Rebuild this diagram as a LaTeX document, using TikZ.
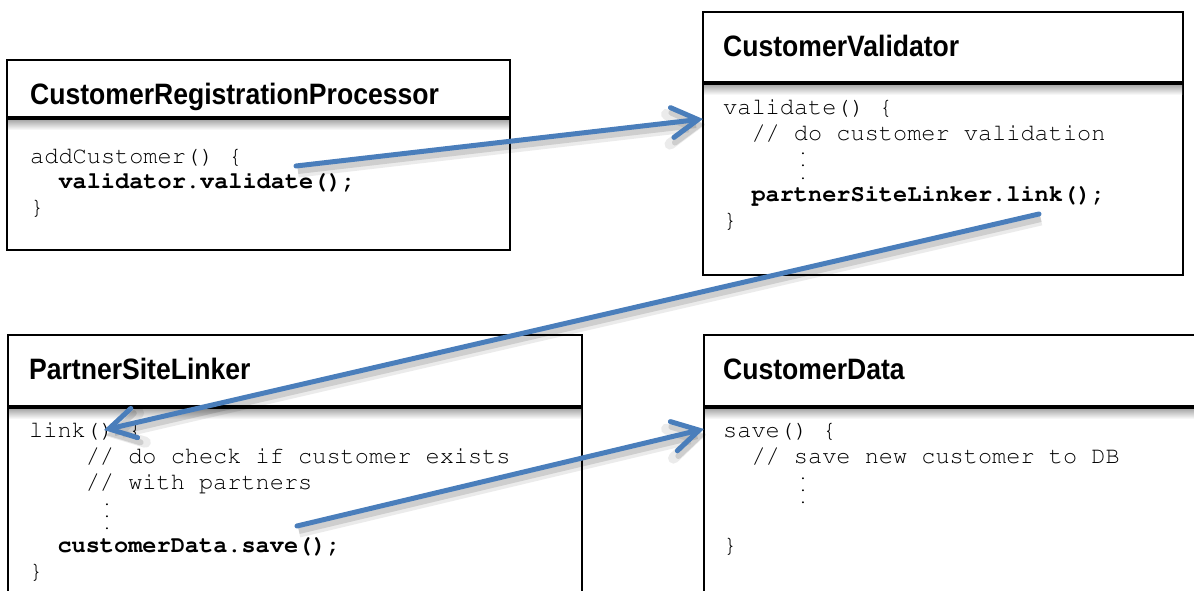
\documentclass[tikz,border=0pt]{standalone}
\usepackage[T1]{fontenc}
\usepackage{fontspec}
\usepackage{pdfrender}
\setmainfont{Liberation Sans}
\newfontfamily\titlefont{Liberation Sans}[FakeStretch=0.9]
\newcommand\courfont{\fontencoding{T1}\fontfamily{pcr}\selectfont}
\newcommand\courheavy{\pdfrender{TextRenderingMode=2, LineWidth=0.45pt}}
\usetikzlibrary{arrows.meta}
\definecolor{arrowblue}{HTML}{4A7EBB}
\begin{document}
\begin{tikzpicture}[x=1pt,y=-1pt,
  boxnode/.style={draw=black, line width=1.7pt, fill=white, anchor=north west, inner sep=0pt, outer sep=0pt},
  sepline/.style={draw=black, line width=3.5pt},
  sepshadow/.style={top color=black!35, bottom color=white},
  titletext/.style={font=\titlefont\bfseries\fontsize{29.5}{32}\selectfont, anchor=base west, inner sep=0pt},
  code/.style={font=\courfont\fontsize{23.6}{25}\selectfont\courheavy, anchor=base west, inner sep=0pt},
  codeb/.style={font=\courfont\bfseries\fontsize{23.6}{25}\selectfont, anchor=base west, inner sep=0pt},
  dotnode/.style={font=\courfont\fontsize{14}{14}\selectfont, inner sep=0pt, text height=2pt, text depth=0pt, anchor=base},
  callarrow/.style={draw=arrowblue, line width=5pt, line cap=round,
    -{Straight Barb[length=26pt, width=30pt, line cap=round]},
    preaction={draw=black, draw opacity=0.08, line width=11pt, transform canvas={shift={(2pt,-6pt)}}},
    preaction={draw=black, draw opacity=0.12, line width=6pt, transform canvas={shift={(2pt,-5pt)}}}}
]
\useasboundingbox (0,0) rectangle (1194,591);
\clip (0,0) rectangle (1194,591);
\fill[white] (0,0) rectangle (1194,591);

% boxes
\node[boxnode, minimum width=503pt, minimum height=190pt] (crp) at (7,60) {};
\node[boxnode, minimum width=480pt, minimum height=263pt] (cv) at (703,12) {};
\node[boxnode, minimum width=574pt, minimum height=300pt] (psl) at (8,335) {};
\node[boxnode, minimum width=600pt, minimum height=300pt] (cd) at (704,335) {};

% separator shadows
\shade[sepshadow] ([xshift=1pt]crp.west |- 0,119.5) rectangle ([xshift=-1pt]crp.east |- 0,130);
\shade[sepshadow] ([xshift=1pt]cv.west |- 0,84.5) rectangle ([xshift=-1pt]cv.east |- 0,95);
\shade[sepshadow] ([xshift=1pt]psl.west |- 0,408.5) rectangle ([xshift=-1pt]psl.east |- 0,419);
\shade[sepshadow] ([xshift=1pt]cd.west |- 0,408.5) rectangle ([xshift=-1pt]cd.east |- 0,419);

% separators
\draw[sepline] (crp.west |- 0,118) -- (crp.east |- 0,118);
\draw[sepline] (cv.west |- 0,83) -- (cv.east |- 0,83);
\draw[sepline] (psl.west |- 0,407) -- (psl.east |- 0,407);
\draw[sepline] (cd.west |- 0,407) -- (cd.east |- 0,407);

% titles
\node[titletext] (crpt) at (30,105) {CustomerRegistrationProcessor};
\node[titletext] (cvt) at (723,57) {CustomerValidator};
\node[titletext] (pslt) at (29,379) {PartnerSiteLinker};
\node[titletext] (cdt) at (723,379) {CustomerData};

% CustomerRegistrationProcessor code
\node[code] (crp1) at (30,164) {addCustomer() \{};
\node[codeb] (crp2) at (58.3,189) {validator.validate();};
\node[code] (crp3) at (30,214) {\}};

% CustomerValidator code
\node[code] (cv1) at (723,115) {validate() \{};
\node[code] (cv2) at (751.3,141) {// do customer validation};
\node[dotnode] (cvd1) at (803,155) {.};
\node[dotnode] (cvd2) at (803,167) {.};
\node[dotnode] (cvd3) at (803,179) {.};
\node[codeb] (cv3) at (751.3,201) {partnerSiteLinker.link();};
\node[code] (cv4) at (723,227) {\}};

% PartnerSiteLinker code
\node[code] (psl1) at (29,437) {link() \{};
\node[code] (psl2) at (85.6,463) {// do check if customer exists};
\node[code] (psl3) at (85.6,489) {// with partners};
\node[dotnode] (psld1) at (107,505) {.};
\node[dotnode] (psld2) at (107,517) {.};
\node[dotnode] (psld3) at (107,529) {.};
\node[codeb] (psl4) at (57.3,552) {customerData.save();};
\node[code] (psl5) at (29,578) {\}};

% CustomerData code
\node[code] (cd1) at (723,437) {save() \{};
\node[code] (cd2) at (751.3,463) {// save new customer to DB};
\node[dotnode] (cdd1) at (803,479) {.};
\node[dotnode] (cdd2) at (803,491) {.};
\node[dotnode] (cdd3) at (803,503) {.};
\node[code] (cd3) at (723,552) {\}};

% arrows
\coordinate (a1s) at (296,166);
\coordinate (a1e) at (cv.west |- 0,119);
\coordinate (a2s) at (1039,214);
\coordinate (a2e) at (104,430);
\coordinate (a3s) at (297,526);
\coordinate (a3e) at (cd.west |- 0,429);
\draw[callarrow] (a1s) -- (a1e);
\draw[callarrow] (a2s) -- (a2e);
\draw[callarrow] (a3s) -- (a3e);
\end{tikzpicture}
\end{document}
